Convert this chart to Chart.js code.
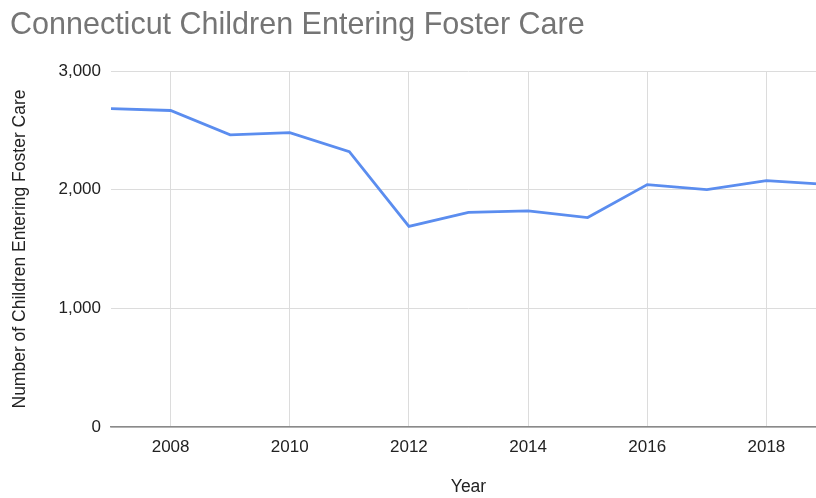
<!DOCTYPE html>
<html>
<head>
<meta charset="utf-8">
<script src="https://cdn.jsdelivr.net/npm/chart.js@4"></script>
<style>
  html, body { margin: 0; padding: 0; background: #fff; overflow: hidden; }
  #wrap { width: 830px; height: 498px; position: relative; }
</style>
</head>
<body>
<div id="wrap"><canvas id="c"></canvas></div>
<script>
const years = [2007, 2008, 2009, 2010, 2011, 2012, 2013, 2014, 2015, 2016, 2017, 2018, 2019];
const entering = [2683, 2667, 2462, 2480, 2320, 1690, 1808, 1822, 1765, 2043, 2000, 2076, 2045];
const xTicks = [2008, 2010, 2012, 2014, 2016, 2018];
const yTicks = [0, 1000, 2000, 3000];
const titleText = 'Connecticut Children Entering Foster Care';
const yTitle = 'Number of Children Entering Foster Care';
const xTitle = 'Year';

const points = years.map((y, i) => ({ x: y, y: entering[i] }));
const FONT = 'Liberation Sans, Arial, sans-serif';

new Chart(document.getElementById('c'), {
  type: 'line',
  data: {
    datasets: [{
      data: points,
      borderColor: '#5b8def',
      borderWidth: 2.8,
      pointRadius: 0,
      tension: 0,
      fill: false
    }]
  },
  options: {
    responsive: true,
    maintainAspectRatio: false,
    animation: false,
    layout: { padding: { left: 10, right: 4, top: 0, bottom: 0 } },
    plugins: {
      legend: { display: false },
      tooltip: { enabled: false },
      title: {
        display: true,
        text: titleText,
        align: 'start',
        color: '#757575',
        font: { family: FONT, size: 30.5, weight: 'normal', lineHeight: 1.2 },
        padding: { top: 7.7, bottom: 26.7 }
      }
    },
    scales: {
      x: {
        type: 'linear',
        min: 2007,
        max: 2019,
        afterBuildTicks: s => { s.ticks = xTicks.map(v => ({ value: v })); },
        afterFit: s => { s.height = 71; },
        grid: { color: '#dcdcdc', lineWidth: 1, drawTicks: false },
        border: { display: true, color: '#8a8a8a', width: 1.5 },
        ticks: {
          color: '#222',
          font: { family: FONT, size: 17 },
          padding: 10,
          maxRotation: 0,
          autoSkip: false,
          callback: v => String(v)
        },
        title: {
          display: true,
          text: xTitle,
          color: '#222',
          font: { family: FONT, size: 17.5 },
          padding: { top: 0, bottom: 0 }
        }
      },
      y: {
        min: 0,
        max: 3000,
        afterBuildTicks: s => { s.ticks = yTicks.map(v => ({ value: v })); },
        afterFit: s => { s.width = 101; },
        grid: { color: '#dcdcdc', lineWidth: 1, drawTicks: false },
        border: { display: false },
        ticks: {
          color: '#222',
          font: { family: FONT, size: 17 },
          padding: 10,
          callback: v => v.toLocaleString('en-US')
        },
        title: {
          display: true,
          text: yTitle,
          color: '#222',
          font: { family: FONT, size: 17.5 },
          padding: { top: 0, bottom: 0 }
        }
      }
    }
  }
});
</script>
</body>
</html>
